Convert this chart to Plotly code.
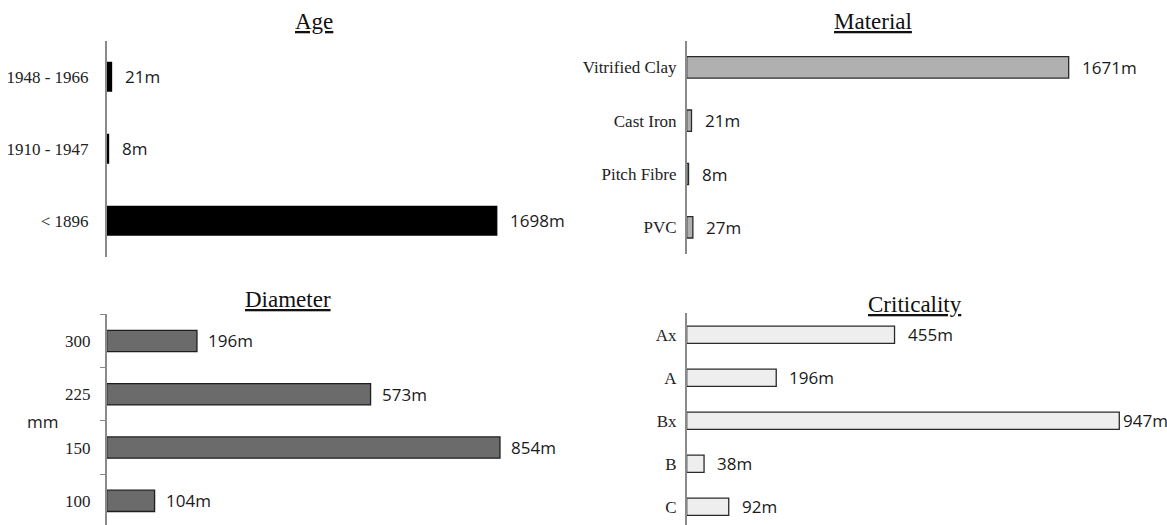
import plotly.graph_objects as go

W, H = 1167, 525

# ---- data ----
age_cats = ["1948 - 1966", "1910 - 1947", "< 1896"]
age_vals = [21, 8, 1698]

mat_cats = ["Vitrified Clay", "Cast Iron", "Pitch Fibre", "PVC"]
mat_vals = [1671, 21, 8, 27]

dia_cats = ["300", "225", "150", "100"]
dia_vals = [196, 573, 854, 104]

crit_cats = ["Ax", "A", "Bx", "B", "C"]
crit_vals = [455, 196, 947, 38, 92]

titles = ["Age", "Material", "Diameter", "Criticality"]


def px(x):
    return x / W


def py(y):
    return 1 - y / H


SERIF = "Liberation Serif, Times New Roman, serif"
SANS = "Open Sans, Lato, sans-serif"

fig = go.Figure()

panels = [
    dict(cats=age_cats, vals=age_vals, ax="", fill="#000000", line="#000000",
         xd=(106.7, 566.1), yd=(40.7, 256.7), xr=2000, yr=[2.5, -0.5], so=13, gap=11, ticks=False),
    dict(cats=mat_cats, vals=mat_vals, ax="2", fill="#b0b0b0", line="#2a2a2a",
         xd=(686.7, 1143.9), yd=(40.7, 254.0), xr=2000, yr=[3.5, -0.5], so=5, gap=11, ticks=False),
    dict(cats=dia_cats, vals=dia_vals, ax="3", fill="#6b6b6b", line="#1e1e1e",
         xd=(106.7, 567.2), yd=(314.3, 525.0), xr=1000, yr=[3.453, -0.5], so=11, gap=9, ticks=True),
    dict(cats=crit_cats, vals=crit_vals, ax="4", fill="#eeeeee", line="#2a2a2a",
         xd=(686.7, 1143.5), yd=(313.3, 525.0), xr=1000, yr=[4.423, -0.5], so=5, gap=11, ticks=False),
]

annotations = []
for i, p in enumerate(panels):
    xa = "x" + p["ax"]
    ya = "y" + p["ax"]
    fig.add_trace(go.Bar(
        x=p["vals"], y=p["cats"], orientation="h",
        xaxis=xa, yaxis=ya, width=0.4,
        marker=dict(color=p["fill"], line=dict(color=p["line"], width=1.3)),
        hoverinfo="skip", showlegend=False,
    ))
    xkey = "xaxis" + p["ax"]
    ykey = "yaxis" + p["ax"]
    fig.update_layout(**{
        xkey: dict(domain=[px(p["xd"][0]), px(p["xd"][1])], range=[0, p["xr"]],
                   anchor=ya, showline=False, showgrid=False, zeroline=False,
                   showticklabels=False, ticks=""),
        ykey: dict(domain=[py(p["yd"][1]), py(p["yd"][0])], range=p["yr"],
                   type="category", categoryorder="array", categoryarray=p["cats"],
                   anchor=xa, showline=True, linecolor="#8a8a8a", linewidth=1.5,
                   showgrid=False, zeroline=False,
                   ticks="outside" if p["ticks"] else "",
                   tickson="boundaries" if p["ticks"] else None,
                   ticklen=5, tickcolor="#8a8a8a", tickwidth=1.2,
                   ticklabelstandoff=p["so"],
                   tickfont=dict(family=SERIF, size=17, color="#222222")),
    })
    vmax = max(p["vals"])
    for j, v in enumerate(p["vals"]):
        g = p["gap"]
        if i == 3 and v == vmax:
            g = 2
        annotations.append(dict(
            x=v, y=j, xref=xa, yref=ya, text=f"{v}m", showarrow=False,
            xanchor="left", yanchor="middle", xshift=g,
            font=dict(family=SANS, size=17, color="#1a1a1a"),
        ))

# titles
title_pos = [(314, 22), (872.5, 21), (288, 299), (915, 304)]
for t, (tx, ty) in zip(titles, title_pos):
    annotations.append(dict(
        x=px(tx), y=py(ty), xref="paper", yref="paper", text=f"<u>{t}</u>",
        showarrow=False, xanchor="center", yanchor="middle",
        font=dict(family=SERIF, size=23, color="#111111"),
    ))

annotations.append(dict(
    x=px(42), y=py(421), xref="paper", yref="paper", text="mm", showarrow=False,
    xanchor="center", yanchor="middle",
    font=dict(family=SANS, size=17, color="#1a1a1a"),
))

fig.update_layout(
    width=W, height=H,
    margin=dict(l=0, r=0, t=0, b=0),
    paper_bgcolor="white", plot_bgcolor="white",
    annotations=annotations,
    bargap=0.6,
)

fig.write_html("out.html", config={"displayModeBar": False},
               post_script="document.body.style.margin='0';")
